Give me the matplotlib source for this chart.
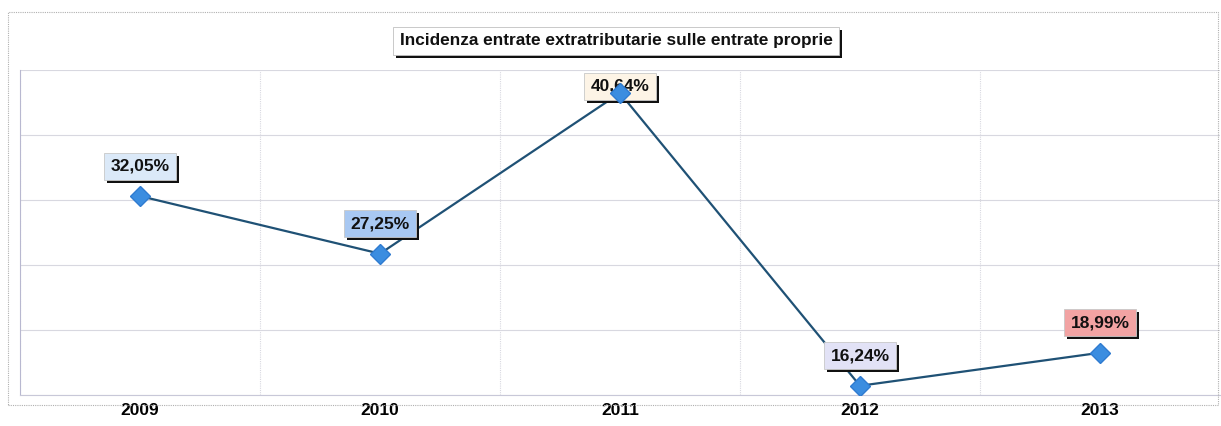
import matplotlib.pyplot as plt
from matplotlib.patches import Rectangle

plt.rcParams['font.family'] = ['Liberation Sans', 'DejaVu Sans']

# Data
anni = ['2009', '2010', '2011', '2012', '2013']
incidenza = [32.05, 27.25, 40.64, 16.24, 18.99]
etichette = ['32,05%', '27,25%', '40,64%', '16,24%', '18,99%']
colori_box = ['#dbe9f8', '#a8c8f2', '#fdf4e6', '#e2e2f6', '#f2a3a3']

W, H = 1221, 426
fig = plt.figure(figsize=(W / 100, H / 100), dpi=100)
ax = fig.add_axes([20 / W, 1 - 395 / H, 1200 / W, 325 / H])

# outer dotted frame
fig.patches.append(Rectangle((8 / W, 1 - 405 / H), 1210 / W, 393 / H,
                             transform=fig.transFigure, fill=False,
                             edgecolor='#b0b0b0', lw=0.8, ls=(0, (1, 1))))

x = list(range(len(anni)))
ax.plot(x, incidenza, color='#1f5175', lw=1.6, zorder=3)
ax.plot(x, incidenza, ls='none', marker='D', ms=10, color='#3b8de0',
        markeredgecolor='#2f7bd0', zorder=7)

ax.set_xlim(-0.5, 4.5)
ymin, ymax = 15.47, 42.56
ax.set_ylim(ymin, ymax)
step = (ymax - ymin) / 5
ax.set_yticks([ymin + i * step for i in range(6)])
ax.set_yticklabels([])
ax.tick_params(axis='y', length=0)
ax.set_xticks(x)
ax.set_xticklabels(anni, fontsize=12.5, fontweight='bold')
ax.tick_params(axis='x', length=0, pad=6)
ax.set_xticks([i + 0.5 for i in range(-1, 5)], minor=True)
ax.tick_params(axis='x', which='minor', length=0)

ax.grid(axis='y', color='#d8d8e0', lw=0.8)
ax.grid(axis='x', which='minor', color='#d8d8e0', lw=0.8, ls=(0, (1, 1)))
for s in ['top', 'right']:
    ax.spines[s].set_visible(False)
ax.spines['left'].set_color('#b8b8d0')
ax.spines['bottom'].set_color('#c8c8d8')

testi = []
for xi, yi, lab, c in zip(x, incidenza, etichette, colori_box):
    yl = min(yi + 2.5, ymax - 1.35)
    t = ax.text(xi, yl, lab, ha='center', va='center', fontsize=12.5,
                fontweight='bold', color='#111111', zorder=6,
                bbox=dict(boxstyle='square,pad=0.35', fc=c, ec='#c8c8c8', lw=0.6))
    testi.append(t)

# title
titolo = 'Incidenza entrate extratributarie sulle entrate proprie'
tt = fig.text(616 / W, 1 - 41 / H, titolo, ha='center', va='center', fontsize=12.4,
              fontweight='bold', color='#111111', zorder=6,
              bbox=dict(boxstyle='square,pad=0.4', fc='white', ec='#c0c0c0', lw=0.6))

# black drop shadows behind the boxes
fig.canvas.draw()
inv = ax.transData.inverted()
for t in testi:
    bb = t.get_bbox_patch().get_window_extent()
    (x0, y0), (x1, y1) = inv.transform([(bb.x0 + 3, bb.y0 - 3), (bb.x1 + 3, bb.y1 - 3)])
    ax.add_patch(Rectangle((x0, y0), x1 - x0, y1 - y0, fc='#111111', ec='none', zorder=5))
bb = tt.get_bbox_patch().get_window_extent()
fig.patches.append(Rectangle(((bb.x0 + 3) / W, (bb.y0 - 3) / H), bb.width / W, bb.height / H,
                             transform=fig.transFigure, fc='#111111', ec='none', zorder=5))

fig.savefig('out.png', dpi=100)
